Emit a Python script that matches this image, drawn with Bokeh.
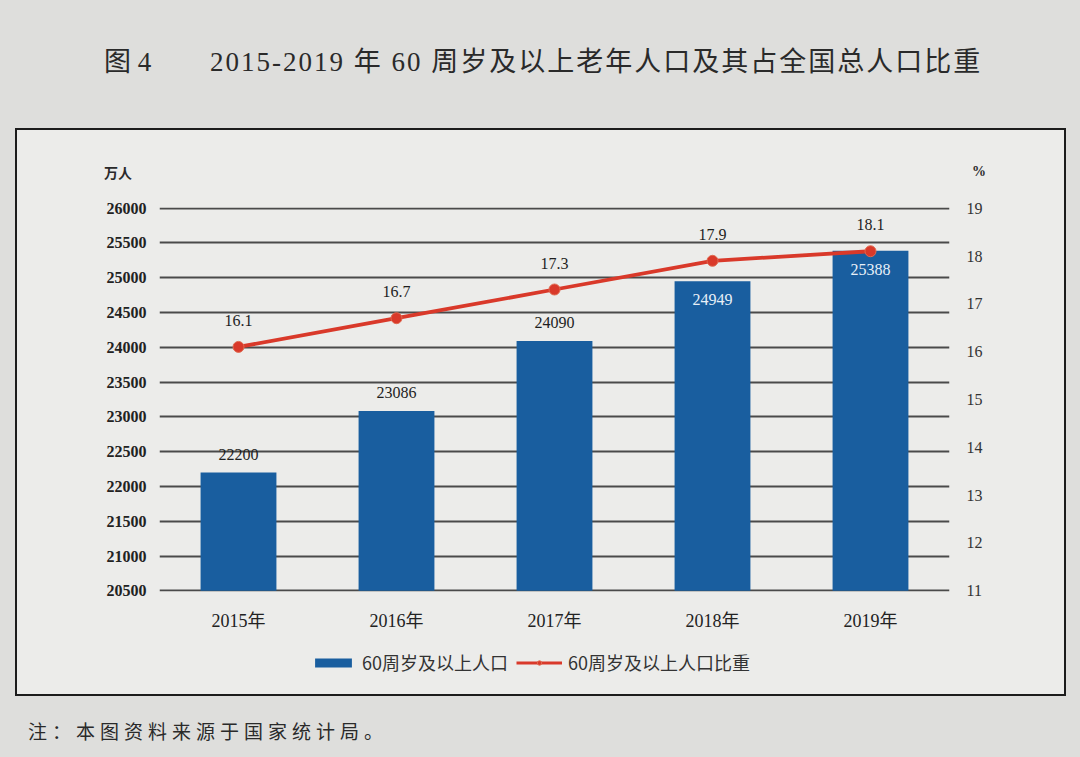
from bokeh.plotting import figure
from bokeh.models import (Range1d, FactorRange, LinearAxis, Legend, LegendItem, ColumnDataSource,
                          FixedTicker, Div)
from bokeh.layouts import column
from bokeh.core.properties import value
from bokeh.embed import file_html
from bokeh.resources import INLINE

# ---- data ----
years = ["2015年", "2016年", "2017年", "2018年", "2019年"]
population = [22200, 23086, 24090, 24949, 25388]      # 万人
share = [16.1, 16.7, 17.3, 17.9, 18.1]                 # %
left_ticks = [20500, 21000, 21500, 22000, 22500, 23000, 23500, 24000, 24500, 25000, 25500, 26000]
right_ticks = [11, 12, 13, 14, 15, 16, 17, 18, 19]

title_text = "2015-2019 年 60 周岁及以上老年人口及其占全国总人口比重"
fig_no = "图 4"
note_text = "注：本图资料来源于国家统计局。"
left_unit = "万人"
right_unit = "%"
bar_name = "60周岁及以上人口"
line_name = "60周岁及以上人口比重"

SERIF_MIX = "Liberation Serif, Noto Sans CJK SC"
CJK = "Noto Sans CJK SC"
PAGE_BG = "#dededc"
BOX_BG = "#ececea"
BAR_COLOR = "#195e9f"
LINE_COLOR = "#d9392a"

# small padding so the first and last grid lines are drawn inside the frame
pad_l = 10
pad_r = pad_l * (right_ticks[-1] - right_ticks[0]) / (left_ticks[-1] - left_ticks[0])

# ---- main chart ----
p = figure(x_range=years, y_range=Range1d(left_ticks[0] - pad_l, left_ticks[-1] + pad_l),
           width=1046, height=462, output_backend="svg", toolbar_location=None,
           min_border_left=142, min_border_right=114, min_border_top=27, min_border_bottom=51,
           margin=0)
p.extra_y_ranges = {"pct": Range1d(right_ticks[0] - pad_r, right_ticks[-1] + pad_r)}
p.border_fill_color = BOX_BG
p.background_fill_color = BOX_BG
p.outline_line_color = None

p.xgrid.grid_line_color = None
p.ygrid.ticker = FixedTicker(ticks=left_ticks)
p.ygrid.grid_line_color = "#4a4a4a"
p.ygrid.grid_line_width = 2

p.yaxis.ticker = FixedTicker(ticks=left_ticks)
p.yaxis.axis_line_color = None
p.yaxis.major_tick_line_color = None
p.yaxis.minor_tick_line_color = None
p.yaxis.major_label_standoff = 7
p.yaxis.major_label_text_font = "Liberation Serif"
p.yaxis.major_label_text_font_size = "16px"
p.yaxis.major_label_text_font_style = "bold"
p.yaxis.major_label_text_color = "#222222"

p.xaxis.axis_line_color = None
p.xaxis.major_tick_line_color = None
p.xaxis.major_label_standoff = 13
p.xaxis.major_label_text_font = SERIF_MIX
p.xaxis.major_label_text_font_size = "18px"
p.xaxis.major_label_text_color = "#222222"

ra = LinearAxis(y_range_name="pct", ticker=FixedTicker(ticks=right_ticks))
ra.axis_line_color = None
ra.major_tick_line_color = None
ra.minor_tick_line_color = None
ra.major_label_standoff = 11
ra.major_label_text_font = "Liberation Serif"
ra.major_label_text_font_size = "16px"
ra.major_label_text_color = "#333333"
p.add_layout(ra, "right")

src = ColumnDataSource(dict(x=years, y=population, s=share,
                            slab=[f"{v:.1f}" for v in share]))
p.vbar(x="x", top="y", bottom=left_ticks[0], width=0.48, source=src,
       fill_color=BAR_COLOR, line_color=None)

inside = [i for i, v in enumerate(population) if v > left_ticks[8]]
above = [i for i in range(len(population)) if i not in inside]
src_above = ColumnDataSource(dict(x=[years[i] for i in above], y=[population[i] for i in above],
                                  t=[str(population[i]) for i in above]))
src_inside = ColumnDataSource(dict(x=[years[i] for i in inside], y=[population[i] for i in inside],
                                   t=[str(population[i]) for i in inside]))
p.text(x="x", y="y", text="t", source=src_above, y_offset=-13, text_align="center",
       text_baseline="bottom", text_font=value("Liberation Serif"), text_font_size="16px",
       text_color="#1e1e1e")
p.text(x="x", y="y", text="t", source=src_inside, y_offset=13, text_align="center",
       text_baseline="top", text_font=value("Liberation Serif"), text_font_size="16px",
       text_color="#e8f0f8")

p.line(x="x", y="s", source=src, y_range_name="pct", line_color=LINE_COLOR, line_width=3.8)
p.scatter(x="x", y="s", source=src, y_range_name="pct", size=11,
          fill_color=LINE_COLOR, line_color="#e06a50")
p.text(x="x", y="s", text="slab", source=src, y_range_name="pct", y_offset=-21,
       text_align="center", text_baseline="bottom", text_font=value("Liberation Serif"),
       text_font_size="16px", text_color="#1e1e1e")

# ---- legend strip: same series styles; strip renderers draw nothing visible, only the legend shows ----
lg = figure(width=1046, height=51, output_backend="svg", toolbar_location=None,
            x_range=FactorRange(*years), y_range=Range1d(0, 1),
            x_axis_type=None, y_axis_type=None,
            min_border_left=142, min_border_right=114, min_border_top=0, min_border_bottom=0,
            margin=0)
lg.border_fill_color = BOX_BG
lg.background_fill_color = BOX_BG
lg.outline_line_color = None
lg.grid.grid_line_color = None
r_bar = lg.vbar(x="x", top="y", bottom=left_ticks[0], width=0, source=src,
                fill_color=BAR_COLOR, line_color=None)
r_line = lg.line(x="x", y="s", source=src, line_color=LINE_COLOR, line_width=3)
r_dot = lg.scatter(x="x", y="s", source=src, size=9, fill_color=LINE_COLOR, line_color="#e06a50")
legend = Legend(items=[LegendItem(label=bar_name, renderers=[r_bar]),
                       LegendItem(label=line_name, renderers=[r_line, r_dot])],
                orientation="horizontal", location=(149, 16),
                background_fill_alpha=0, border_line_alpha=0,
                glyph_width=46, glyph_height=11, label_text_font=CJK,
                label_text_font_size="18px", label_text_color="#333333",
                spacing=8, label_standoff=6, padding=2, margin=0)
lg.add_layout(legend)

# ---- text blocks ----
title_html = (
    "<div style='position:relative;width:1080px;height:128px;font-family:\"Liberation Serif\",\"Noto Sans CJK SC\";"
    "font-size:27px;color:#2a2a2a;white-space:nowrap'>"
    f"<span style='position:absolute;left:104px;top:43px'>{fig_no}</span>"
    f"<span style='position:absolute;left:210px;top:43px;letter-spacing:2px'>{title_text}</span></div>"
)
title_div = Div(text=title_html, width=1080, height=128, margin=0)

units_html = (
    "<div style='position:relative;width:1046px;height:50px;font-size:14px;font-weight:bold;"
    "color:#2a2a2a;white-space:nowrap'>"
    f"<span style='position:absolute;left:87px;top:32px;font-family:\"Noto Sans CJK SC\"'>{left_unit}</span>"
    f"<span style='position:absolute;left:955px;top:32px;font-family:\"Liberation Serif\"'>{right_unit}</span></div>"
)
units_div = Div(text=units_html, width=1046, height=50, margin=0)

box = column(units_div, p, lg, width=1051, height=568, margin=(0, 0, 0, 15),
             styles={"border": "2.5px solid #1c1c1c", "background-color": BOX_BG,
                     "box-sizing": "border-box"})

note_html = (
    "<div style='position:relative;width:1080px;height:61px;font-family:\"Noto Sans CJK SC\";"
    "font-size:19px;color:#2a2a2a;white-space:nowrap'>"
    f"<span style='position:absolute;left:28px;top:21px;letter-spacing:5px'>{note_text}</span></div>"
)
note_div = Div(text=note_html, width=1080, height=61, margin=0)

page = column(title_div, box, note_div, width=1080, height=757, margin=0,
              styles={"background-color": PAGE_BG})

open("out.html", "w").write(file_html(page, INLINE))
